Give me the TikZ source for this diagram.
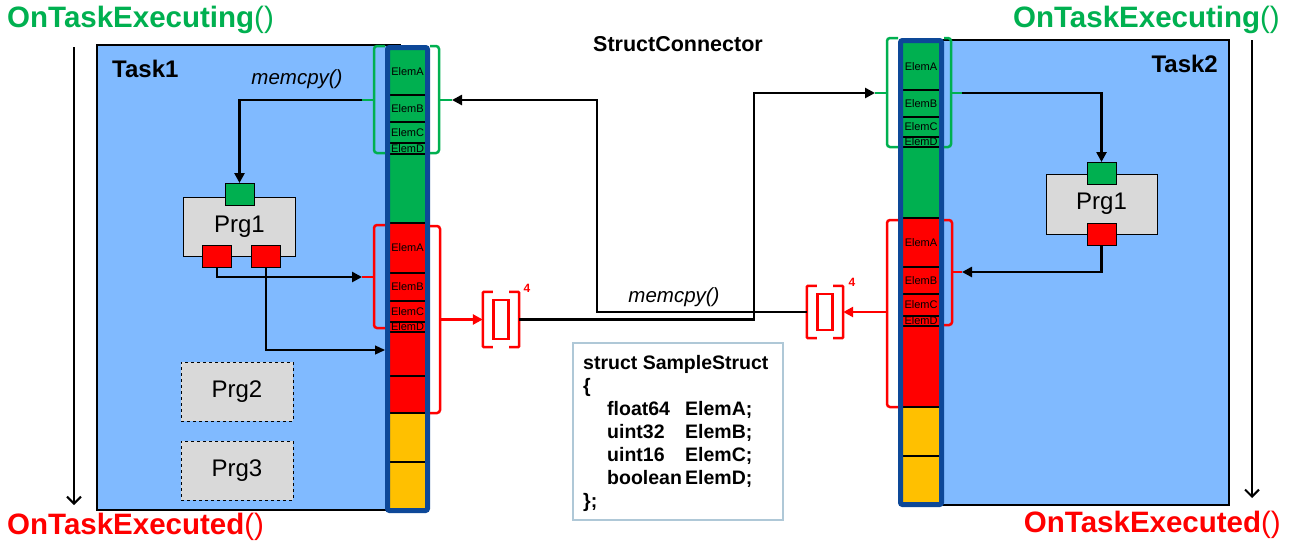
\documentclass[tikz,border=0pt]{standalone}
\usepackage{fontspec}
\setmainfont{Liberation Sans}
\usepackage{xcolor}
\usetikzlibrary{arrows.meta}

\definecolor{taskblue}{RGB}{128,186,255}
\definecolor{prggray}{RGB}{217,217,217}
\definecolor{colblue}{RGB}{13,72,152}
\definecolor{ogreen}{RGB}{0,176,80}
\definecolor{oyellow}{RGB}{255,192,0}
\definecolor{structline}{RGB}{175,200,215}

\begin{document}
\begin{tikzpicture}[x=1pt,y=-1pt,
  task/.style={draw=black,line width=2.5pt,fill=taskblue},
  prgbox/.style={draw=black,line width=1pt,fill=prggray,minimum width=112pt,minimum height=59pt,inner sep=0pt,font=\fontsize{24}{24}\selectfont},
  idle/.style={prgbox,dashed,line width=0.8pt},
  port/.style={draw=black,line width=1pt,minimum width=29pt,minimum height=22pt,inner sep=0pt},
  elem/.style={inner sep=0pt,font=\fontsize{11}{11}\selectfont},
  gbrack/.style={draw=ogreen,line width=2.5pt,rounded corners=3pt},
  rbrack/.style={draw=red,line width=2.5pt,rounded corners=3pt},
  flow/.style={draw=black,line width=2.5pt,-{Triangle[length=10pt,width=10pt]}},
  thinflow/.style={draw=black,line width=1.2pt,-{Triangle[length=10pt,width=9pt]}},
  redflow/.style={draw=red,line width=2.5pt,-{Triangle[length=10pt,width=10pt]}},
  time/.style={draw=black,line width=2pt,-{Straight Barb[length=7pt,width=14pt]}},
  hook/.style={inner sep=0pt,font=\fontsize{29.5}{30}\selectfont},
]
\useasboundingbox[fill=white] (0,0) rectangle (1289,542);

% tasks
\draw[task] (97,45) rectangle (400,510);
\draw[task] (920,40) rectangle (1229,505);
\node[anchor=base west,inner sep=0pt,font=\bfseries\fontsize{24}{24}\selectfont] (t1) at (112,77) {Task1};
\node[anchor=base east,inner sep=0pt,font=\bfseries\fontsize{24}{24}\selectfont] (t2) at (1218,72) {Task2};

% hooks
\node[hook,anchor=west,text=ogreen] (exec1) at (7,20) {\textbf{OnTaskExecuting}()};
\node[hook,anchor=west,text=red] (done1) at (7,527) {\textbf{OnTaskExecuted}()};
\node[hook,anchor=east,text=ogreen] (exec2) at (1280,20) {\textbf{OnTaskExecuting}()};
\node[hook,anchor=east,text=red] (done2) at (1281,525) {\textbf{OnTaskExecuted}()};
\coordinate (s1) at (74,47);
\coordinate (e1) at (74,505);
\coordinate (s2) at (1252,40);
\coordinate (e2) at (1252,498);
\draw[time] (s1) -- (e1);
\draw[time] (s2) -- (e2);

% left column
\fill[ogreen] (388,47) rectangle (427,223);
\fill[red] (388,223) rectangle (427,413);
\fill[oyellow] (388,413) rectangle (427,511);
\foreach \y in {95,122,143,154,273,301,322,332,376}
  \draw[line width=1.2pt] (390,\y) -- (425,\y);
\foreach \y in {223,413,462}
  \draw[line width=2.5pt] (390,\y) -- (425,\y);
\foreach \y/\e [count=\i] in {72/A,108.5/B,132.5/C,148.5/D,248/A,287/B,311.5/C,327/D}
  \node[elem] (le\i) at (407.5,\y) {Elem\e};
\draw[colblue,line width=5pt,rounded corners=2pt] (387.5,47.5) rectangle (427.5,510.5);

% right column
\fill[ogreen] (901,40) rectangle (941,218);
\fill[red] (901,218) rectangle (941,407);
\fill[oyellow] (901,407) rectangle (941,505);
\foreach \y in {90,117,137,147,267,294,316,326}
  \draw[line width=1.2pt] (903,\y) -- (939,\y);
\foreach \y in {218,407,456}
  \draw[line width=2.5pt] (903,\y) -- (939,\y);
\foreach \y/\e [count=\i] in {67/A,103.5/B,127/C,142/D,242.5/A,280.5/B,305/C,321/D}
  \node[elem] (re\i) at (921,\y) {Elem\e};
\draw[colblue,line width=5pt,rounded corners=2pt] (900.5,40.5) rectangle (941.5,504.5);

% brackets
\coordinate (lgA) at (362,100);
\coordinate (lgB) at (452,100);
\coordinate (lrA) at (362,277);
\coordinate (lrB) at (440,319.5);
\coordinate (lcol) at (385,350);
\coordinate (rgA) at (875,93);
\coordinate (rgB) at (962,93);
\coordinate (rrA) at (887,312);
\coordinate (rrB) at (962,272);
\draw[gbrack] (385,46) -- (374,46) -- (374,153) -- (385,153);
\draw[gbrack] (430,46) -- (439,46) -- (439,153) -- (430,153);
\draw[gbrack] (374,100) -- (lgA);
\draw[gbrack] (439,100) -- (lgB);
\draw[rbrack] (385,225) -- (374,225) -- (374,328) -- (385,328);
\draw[rbrack] (430,226) -- (440,226) -- (440,413) -- (430,413);
\draw[rbrack] (374,277) -- (lrA);
\draw[gbrack] (898,38) -- (887,38) -- (887,147) -- (898,147);
\draw[gbrack] (944,38) -- (951,38) -- (951,147) -- (944,147);
\draw[gbrack] (887,93) -- (rgA);
\draw[gbrack] (951,93) -- (rgB);
\draw[rbrack] (898,220) -- (887,220) -- (887,407) -- (898,407);
\draw[rbrack] (944,220) -- (952,220) -- (952,325) -- (944,325);
\draw[rbrack] (952,272) -- (rrB);

% array symbols
\node[inner sep=0pt,minimum width=36pt,minimum height=55pt] (larr) at (501,319.5) {};
\node[inner sep=0pt,minimum width=36pt,minimum height=52pt] (rarr) at (825,312) {};
\foreach \a in {larr,rarr} {
  \draw[rbrack,rounded corners=1pt] ([xshift=10pt]\a.north west) -- (\a.north west) -- (\a.south west) -- ([xshift=10pt]\a.south west);
  \draw[rbrack,rounded corners=1pt] ([xshift=-10pt]\a.north east) -- (\a.north east) -- (\a.south east) -- ([xshift=-10pt]\a.south east);
  \draw[red,line width=2.5pt] ([xshift=-7.5pt,yshift=-8pt]\a.north) rectangle ([xshift=7.5pt,yshift=8pt]\a.south);
}
\node[inner sep=0pt,text=red,font=\bfseries\fontsize{12}{12}\selectfont] (lcnt) at (527,288) {4};
\node[inner sep=0pt,text=red,font=\bfseries\fontsize{12}{12}\selectfont] (rcnt) at (852,282) {4};

% programs
\node[prgbox] (lprg1) at (239.5,226.5) {Prg1};
\node[port,fill=ogreen] (lin) at ([yshift=2pt]lprg1.north) {};
\node[port,fill=red] (lout1) at ([xshift=-22.5pt]lprg1.south) {};
\node[port,fill=red] (lout2) at ([xshift=26.5pt]lprg1.south) {};
\node[idle] (lprg2) at (237,391.5) {Prg2};
\node[idle] (lprg3) at (237,470.5) {Prg3};
\node[prgbox,minimum width=111pt,minimum height=60pt] (rprg1) at (1101.5,204) {Prg1};
\node[port,fill=ogreen] (rin) at (rprg1.north) {};
\node[port,fill=red] (rout) at (rprg1.south) {};

% connections
\draw[flow] (lgA) -| (lin.north);
\draw[flow] (lout1.south) |- (lrA);
\draw[thinflow] (lout2.south) |- (lcol);
\draw[redflow] (lrB) -- (larr.west);
\draw[flow] (larr.east) -- ++(235,0) |- (rgA);
\draw[flow] (rarr.west) -- ++(-210,0) |- (lgB);
\draw[redflow] (rrA) -- (rarr.east);
\draw[flow] (rgB) -| (rin.north);
\draw[flow] (rout.south) |- (rrB);

\node[anchor=base,inner sep=0pt,font=\itshape\fontsize{20.5}{20.5}\selectfont] (cpy1) at (297,84) {memcpy()};
\node[anchor=base,inner sep=0pt,font=\itshape\fontsize{20.5}{20.5}\selectfont] (cpy2) at (674,302) {memcpy()};
\node[anchor=base,inner sep=0pt,font=\bfseries\fontsize{21.5}{21.5}\selectfont] (conn) at (678,51) {StructConnector};

% struct
\node[draw=structline,line width=1.5pt,minimum width=210pt,minimum height=177pt,inner sep=0pt] (sbox) at (678,431.5) {};
\node[anchor=north west,inner sep=0pt,align=left,font=\bfseries\fontsize{19.5}{23}\selectfont] (scode) at (583,355) {struct SampleStruct\\
\{\\
\hspace*{24pt}\makebox[78pt][l]{float64}ElemA;\\
\hspace*{24pt}\makebox[78pt][l]{uint32}ElemB;\\
\hspace*{24pt}\makebox[78pt][l]{uint16}ElemC;\\
\hspace*{24pt}\makebox[78pt][l]{boolean}ElemD;\\
\};};
\end{tikzpicture}
\end{document}
